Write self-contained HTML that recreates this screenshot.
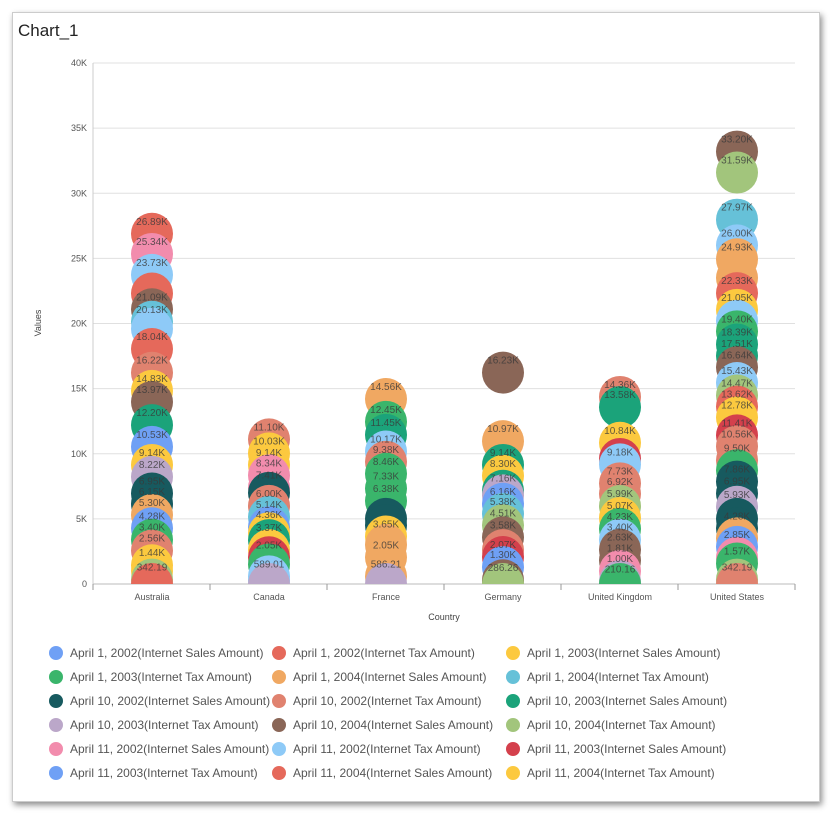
<!DOCTYPE html>
<html><head><meta charset="utf-8"><style>
body{margin:0;background:#fff;font-family:"Liberation Sans",sans-serif;}
#box{position:absolute;left:12px;top:12px;width:806px;height:788px;background:#fff;box-shadow:2px 3px 6px rgba(0,0,0,.45);border:1px solid #ccc;}
</style></head><body>
<div id="box"></div>
<svg id="s" width="839" height="822" style="position:absolute;left:0;top:0" font-family="Liberation Sans, sans-serif">
<text x="18" y="36" font-size="17" fill="#222">Chart_1</text>
<defs><clipPath id="cp"><rect x="93" y="55" width="702" height="529"/></clipPath></defs>
<g id="grid"></g>
<g id="bub" clip-path="url(#cp)"></g>
<g id="lab" font-size="10" fill="#3a3a3a" fill-opacity="0.8" text-anchor="middle"></g>
<text transform="translate(41,323) rotate(-90)" font-size="9" fill="#444" text-anchor="middle">Values</text>
<text x="444" y="620" font-size="9" fill="#444" text-anchor="middle">Country</text>
<g id="leg" font-size="12" fill="#555"></g>
</svg>
<script>
var C=["#6fa0f5","#e5695b","#fcc93f","#3ab56b","#f0a862","#66c1d8","#175a5f","#e0826f","#1ba37a","#bba7c9","#8a6657","#a2c57c","#f28cad","#8ecaf7","#d4404c","#6fa0f5","#e5695b","#fcc93f"];
var NS="http://www.w3.org/2000/svg";
function el(p,t,a,txt){var e=document.createElementNS(NS,t);for(var k in a)e.setAttribute(k,a[k]);if(txt!=null)e.textContent=txt;document.getElementById(p).appendChild(e);}
function Y(v){return 584-v*13.025;}
for(var i=0;i<=8;i++){var y=Y(i*5);el("grid","line",{x1:93,x2:795,y1:y,y2:y,stroke:i?"#e0e0e0":"#bbb","stroke-width":1});el("grid","text",{x:87,y:y+3,"font-size":9,fill:"#555","text-anchor":"end"},i?i*5+"K":"0");}
el("grid","line",{x1:93,x2:93,y1:63,y2:584,stroke:"#ccc"});
var cats=["Australia","Canada","France","Germany","United Kingdom","United States"];
for(i=0;i<=6;i++){var x=93+i*117;el("grid","line",{x1:x,x2:x,y1:584,y2:590,stroke:"#999"});}
cats.forEach(function(c,i){el("grid","text",{x:152+i*117,y:600,"font-size":9,fill:"#555","text-anchor":"middle"},c);});
var D=[
[[0,1],[0.34,11,"342.19"],[1.0,2],[1.44,2,"1.44K"],[2.56,7,"2.56K"],[3.4,3,"3.40K"],[4.28,0,"4.28K"],[5.3,4,"5.30K"],[6.15,6,"6.15K"],[6.95,6,"6.95K"],[8.22,9,"8.22K"],[9.14,2,"9.14K"],[10.53,0,"10.53K"],[12.2,8,"12.20K"],[13.97,10,"13.97K"],[14.83,2,"14.83K"],[16.22,7,"16.22K"],[18.04,1,"18.04K"],[19.6,13],[20.13,5,"20.13K"],[21.09,10,"21.09K"],[22.3,1],[23.73,13,"23.73K"],[25.34,12,"25.34K"],[26.89,1,"26.89K"]],
[[0,9],[0.3,13],[0.59,13,"589.01"],[1.5,3],[2.05,14,"2.05K"],[2.6,2],[3.37,8,"3.37K"],[3.9,2],[4.36,0,"4.36K"],[5.14,5,"5.14K"],[6.0,7,"6.00K"],[7.0,6],[7.41,12,"7.41K"],[8.34,12,"8.34K"],[9.14,2,"9.14K"],[10.03,2,"10.03K"],[11.1,7,"11.10K"]],
[[0,9],[0.59,4,"586.21"],[2.05,4,"2.05K"],[3.0,4],[3.65,2,"3.65K"],[4.5,6],[5.0,6],[6.38,3,"6.38K"],[7.33,3,"7.33K"],[8.46,3,"8.46K"],[9.38,7,"9.38K"],[10.17,13,"10.17K"],[11.45,8,"11.45K"],[12.45,3,"12.45K"],[14.2,4,"14.56K"]],
[[0,11],[0.29,10,"286.26"],[1.3,0,"1.30K"],[2.07,14,"2.07K"],[2.6,7],[3.58,10,"3.58K"],[4.51,11,"4.51K"],[5.38,5,"5.38K"],[6.16,0,"6.16K"],[6.8,9],[7.16,8,"7.16K"],[8.3,2,"8.30K"],[9.14,8,"9.14K"],[10.97,4,"10.97K"],[16.23,10,"16.23K"]],
[[0,3],[0.21,9,"210.16"],[1.0,12,"1.00K"],[1.81,10,"1.81K"],[2.63,10,"2.63K"],[3.4,13,"3.40K"],[4.23,3,"4.23K"],[5.07,2,"5.07K"],[5.99,11,"5.99K"],[6.92,7,"6.92K"],[7.73,7,"7.73K"],[9.6,14],[9.18,13,"9.18K"],[10.84,2,"10.84K"],[13.58,8,"13.58K"],[14.36,7,"14.36K"]],
[[0,7],[0.34,11,"342.19"],[1.57,3,"1.57K"],[2.0,12],[2.85,0,"2.85K"],[3.5,4],[4.28,6,"4.28K"],[5.0,6],[5.93,9,"5.93K"],[6.95,6,"6.95K"],[7.86,6,"7.86K"],[8.73,3],[9.5,7,"9.50K"],[10.56,7,"10.56K"],[11.41,14,"11.41K"],[12.78,2,"12.78K"],[13.62,1,"13.62K"],[14.47,11,"14.47K"],[15.43,13,"15.43K"],[16.64,10,"16.64K"],[17.51,8,"17.51K"],[18.39,8,"18.39K"],[19.4,3,"19.40K"],[20.2,13],[21.05,2,"21.05K"],[22.33,1,"22.33K"],[23.5,4],[24.93,4,"24.93K"],[26.0,13,"26.00K"],[27.97,5,"27.97K"],[33.2,10,"33.20K"],[31.59,11,"31.59K"]]
];
D.forEach(function(col,ci){var x=152+ci*117;
 var s=col.slice().sort(function(a,b){return b[0]-a[0];});
 if(ci==5){s=s.filter(function(d){return d[0]!=31.59});s.unshift([31.59,11,"31.59K"]);s.unshift([33.2,10,"33.20K"]);s=s.filter(function(d,i){return !(i>1&&(d[0]==33.2));});s.splice(0,2,[33.2,10,"33.20K"],[31.59,11,"31.59K"]);}
 s.forEach(function(d){el("bub","circle",{cx:x,cy:Y(d[0]),r:21,fill:C[d[1]]});});
 col.forEach(function(d){if(d[2])el("lab","text",{x:x,y:Y(d[0])-9},d[2]);});
});
var L=["April 1, 2002(Internet Sales Amount)","April 1, 2002(Internet Tax Amount)","April 1, 2003(Internet Sales Amount)","April 1, 2003(Internet Tax Amount)","April 1, 2004(Internet Sales Amount)","April 1, 2004(Internet Tax Amount)","April 10, 2002(Internet Sales Amount)","April 10, 2002(Internet Tax Amount)","April 10, 2003(Internet Sales Amount)","April 10, 2003(Internet Tax Amount)","April 10, 2004(Internet Sales Amount)","April 10, 2004(Internet Tax Amount)","April 11, 2002(Internet Sales Amount)","April 11, 2002(Internet Tax Amount)","April 11, 2003(Internet Sales Amount)","April 11, 2003(Internet Tax Amount)","April 11, 2004(Internet Sales Amount)","April 11, 2004(Internet Tax Amount)"];
var cx=[56,279,513];
L.forEach(function(t,i){var r=Math.floor(i/3),c=i%3,y=653+r*24;el("leg","circle",{cx:cx[c],cy:y,r:7,fill:C[i]});el("leg","text",{x:cx[c]+14,y:y+4},t);});
</script>
</body></html>
